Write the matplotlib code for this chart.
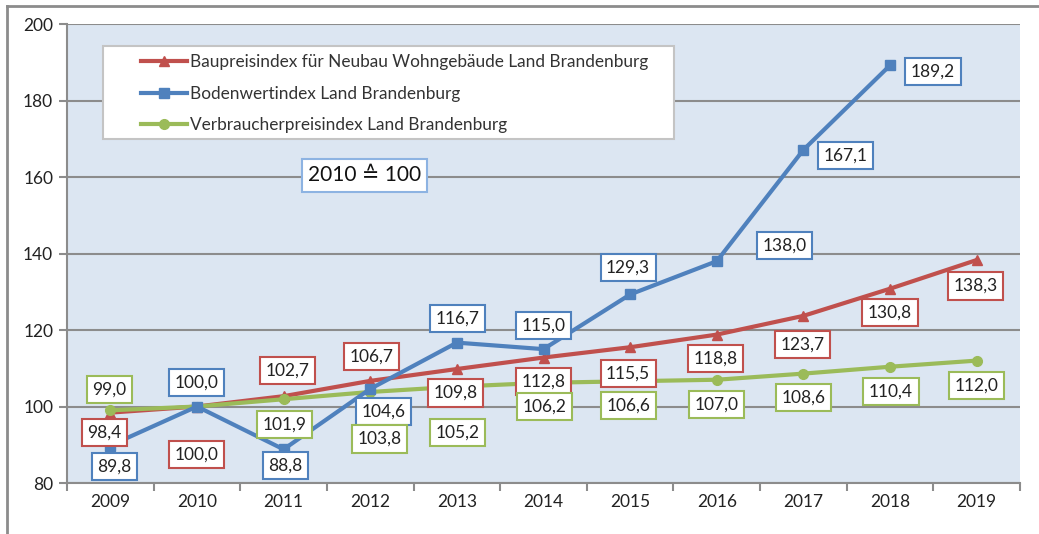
import matplotlib.pyplot as plt
from matplotlib.lines import Line2D
from matplotlib.patches import Rectangle

years = ["2009", "2010", "2011", "2012", "2013", "2014", "2015", "2016", "2017", "2018", "2019"]
baupreis = [98.4, 100.0, 102.7, 106.7, 109.8, 112.8, 115.5, 118.8, 123.7, 130.8, 138.3]
bodenwert = [89.8, 100.0, 88.8, 104.6, 116.7, 115.0, 129.3, 138.0, 167.1, 189.2]
verbraucher = [99.0, 100.0, 101.9, 103.8, 105.2, 106.2, 106.6, 107.0, 108.6, 110.4, 112.0]

# label offsets in pixels (dx, dy), None = no label
off_red = [(-6, -20), (0, -48), (4, 26), (1, 24), (-1, -24), (0, -24), (-2, -26), (-1, -24), (-1, -29), (0, -24), (-1, -26)]
off_blue = [(4, -21), (0, 24), (2, -16), (13, -23), (1, 24), (0, 24), (-2, 27), (68, 16), (42, -6), (43, -6)]
off_green = [(-1, 21), None, (1, -25), (9, -47), (1, -46), (1, -24), (-2, -24), (0, -25), (0, -24), (1, -25), (0, -25)]

red = "#c0504d"
blue = "#4f81bd"
green = "#9bbb59"
font = "Lato"

fig = plt.figure(figsize=(10.39, 5.34), dpi=100)
ax = fig.add_axes([0.0645, 0.0955, 0.9172, 0.8595])
ax.set_facecolor("#dce6f2")

x = list(range(len(years)))
ax.plot(x, baupreis, color=red, lw=3, marker="^", ms=7, zorder=3,
        label="Baupreisindex für Neubau Wohngebäude Land Brandenburg")
ax.plot(x[:len(bodenwert)], bodenwert, color=blue, lw=3, marker="s", ms=7, zorder=4,
        label="Bodenwertindex Land Brandenburg")
ax.plot(x, verbraucher, color=green, lw=3, marker="o", ms=7, zorder=3,
        label="Verbraucherpreisindex Land Brandenburg")


def labels(vals, offs, col):
    for i, v in enumerate(vals):
        if offs[i] is None:
            continue
        ax.annotate(f"{v:.1f}".replace(".", ","), (i, v), xytext=offs[i],
                    textcoords="offset pixels", ha="center", va="center",
                    fontsize=12.5, family=font, color="#222222", zorder=6,
                    bbox=dict(boxstyle="square,pad=0.32", fc="white", ec=col, lw=1.5))


labels(baupreis, off_red, red)
labels(bodenwert, off_blue, blue)
labels(verbraucher, off_green, green)

ax.set_xlim(-0.5, 10.5)
ax.set_ylim(80, 200)
ax.set_yticks(range(80, 201, 20))
ax.yaxis.grid(True, color="#8c8c8c", lw=1.5)
ax.set_axisbelow(True)
ax.set_xticks([i - 0.5 for i in range(12)])
ax.set_xticklabels([])
ax.set_xticks(x, minor=True)
ax.set_xticklabels(years, minor=True)
ax.tick_params(axis="x", which="minor", length=0, pad=8)
ax.tick_params(axis="x", which="major", length=6, color="#8c8c8c", width=1.5)
ax.tick_params(axis="y", length=6, color="#8c8c8c", width=1.5, pad=4)
for lab in ax.get_xticklabels(minor=True) + ax.get_yticklabels():
    lab.set_family(font)
    lab.set_fontsize(12.5)
    lab.set_color("#222222")
for s in ["top", "right"]:
    ax.spines[s].set_visible(False)
for s in ["left", "bottom"]:
    ax.spines[s].set_color("#8c8c8c")
    ax.spines[s].set_linewidth(1.5)

# legend frame drawn separately so the padding matches
ax.add_patch(Rectangle((0.0378, 0.7495), 0.599, 0.2025, transform=ax.transAxes,
                       fc="white", ec="#c4c4c4", lw=1.5, zorder=7))
leg = ax.legend(loc="upper left", bbox_to_anchor=(0.0777, 0.9346), prop={"family": font, "size": 12.4},
                frameon=False, handlelength=2.67, handletextpad=0.17, labelspacing=0.9,
                borderpad=0, borderaxespad=0)
leg.set_zorder(8)
for t in leg.get_texts():
    t.set_color("#333333")

ax.text(0.312, 0.67, "2010 \u2259 100", transform=ax.transAxes, ha="center", va="center",
        fontsize=15, family=[font, "DejaVu Sans"], color="#111111",
        bbox=dict(boxstyle="square,pad=0.3", fc="white", ec="#8db3e2", lw=1.5))

# outer chart frame
fig.add_artist(Line2D([0.007, 0.007], [0, 0.989], color="#8c8c8c", lw=2))
fig.add_artist(Line2D([0.007, 1], [0.989, 0.989], color="#8c8c8c", lw=2))

fig.savefig("out.png", dpi=100)
